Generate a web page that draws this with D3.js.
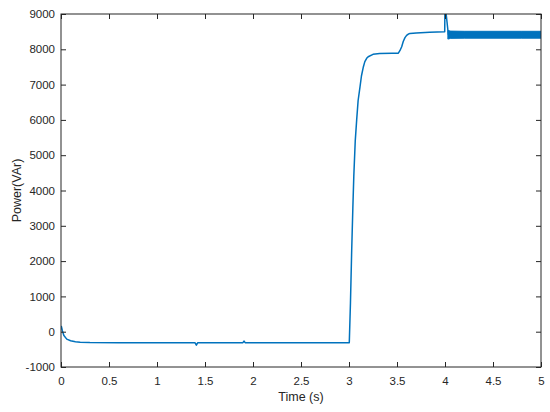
<!DOCTYPE html>
<html>
<head>
<meta charset="utf-8">
<script src="https://cdn.jsdelivr.net/npm/d3@7/dist/d3.min.js"></script>
<style>
  html, body { margin: 0; padding: 0; background: #fff; }
  svg { display: block; font-family: "Liberation Sans", Arial, Helvetica, sans-serif; }
</style>
</head>
<body>
<svg id="chart" width="550" height="412"></svg>
<script>
// ---- data ----
const timeS = [0, 0.004, 0.015, 0.03, 0.06, 0.1, 0.15, 0.2, 0.3, 0.6, 1.0, 1.395, 1.41, 1.425,
  1.895, 1.906, 1.918, 2.5, 3.0, 3.003, 3.015, 3.028, 3.04, 3.05, 3.065, 3.08, 3.095, 3.115, 3.13,
  3.15, 3.165, 3.184, 3.2, 3.25, 3.32,
  3.45, 3.514, 3.53, 3.549, 3.565, 3.583, 3.6, 3.615, 3.635, 3.7, 3.84, 3.997, 4.0, 4.012, 4.035];
const powerVAr = [60, 150, 20, -110, -210, -255, -285, -300, -308, -310, -310, -310, -380, -310,
  -310, -265, -310, -310, -310, -310, 800, 2300, 3500, 4400, 5400, 6000, 6550, 6940, 7250,
  7507, 7650, 7745, 7790, 7858, 7880,
  7885, 7890, 7960, 8074, 8220, 8330, 8395, 8425, 8450, 8465, 8480, 8495, 9400, 9000, 8420];
// oscillation envelope after t = 4 s
const bandTime = [4.03, 4.06, 4.2, 4.5, 4.8, 5.0];
const bandUpper = [8530, 8515, 8510, 8510, 8510, 8510];
const bandLower = [8290, 8310, 8315, 8315, 8315, 8315];
const xTicks = [0, 0.5, 1, 1.5, 2, 2.5, 3, 3.5, 4, 4.5, 5];
const yTicks = [-1000, 0, 1000, 2000, 3000, 4000, 5000, 6000, 7000, 8000, 9000];

// ---- layout ----
const L = 61, R = 541, T = 14, B = 367;
const ink = "#262626", lineColor = "#0072BD";
const svg = d3.select("#chart");

const x = d3.scaleLinear().domain([0, 5]).range([L, R]);
const y = d3.scaleLinear().domain([-1000, 9000]).range([B, T]);

svg.append("clipPath").attr("id", "clip")
  .append("rect").attr("x", L).attr("y", T).attr("width", R - L).attr("height", B - T);

const g = svg.append("g").attr("clip-path", "url(#clip)");

g.append("path")
  .datum(bandTime.map((t, i) => [t, bandUpper[i], bandLower[i]]))
  .attr("fill", lineColor)
  .attr("stroke", lineColor)
  .attr("stroke-width", 1)
  .attr("d", d3.area().x(d => x(d[0])).y0(d => y(d[2])).y1(d => y(d[1])));

g.append("path")
  .datum(timeS.map((t, i) => [t, powerVAr[i]]).concat([[bandTime[0], (bandUpper[0] + bandLower[0]) / 2]]))
  .attr("fill", "none")
  .attr("stroke", lineColor)
  .attr("stroke-width", 1.5)
  .attr("stroke-linejoin", "round")
  .attr("d", d3.line().x(d => x(d[0])).y(d => y(d[1])));

// ---- axes ----
const plain = d => String(d);
function style(sel, labels) {
  sel.select(".domain").remove();
  sel.selectAll(".tick line").attr("stroke", ink).attr("stroke-width", 1);
  sel.selectAll(".tick text").attr("fill", ink).style("font-size", "11.5px")
    .style("font-family", "'Liberation Sans', Arial, sans-serif");
  if (!labels) sel.selectAll(".tick text").remove();
}

svg.append("g").attr("transform", `translate(0,${B})`)
  .call(d3.axisBottom(x).tickValues(xTicks).tickFormat(plain).tickSizeInner(-5).tickSizeOuter(0).tickPadding(10))
  .call(s => style(s, true));
svg.append("g").attr("transform", `translate(0,${T})`)
  .call(d3.axisTop(x).tickValues(xTicks).tickSizeInner(-5).tickSizeOuter(0))
  .call(s => style(s, false));
svg.append("g").attr("transform", `translate(${L},0)`)
  .call(d3.axisLeft(y).tickValues(yTicks).tickFormat(plain).tickSizeInner(-5).tickSizeOuter(0).tickPadding(6))
  .call(s => style(s, true));
svg.append("g").attr("transform", `translate(${R},0)`)
  .call(d3.axisRight(y).tickValues(yTicks).tickSizeInner(-5).tickSizeOuter(0))
  .call(s => style(s, false));

svg.append("rect").attr("x", L).attr("y", T).attr("width", R - L).attr("height", B - T)
  .attr("fill", "none").attr("stroke", ink).attr("stroke-width", 1);

svg.append("text").attr("x", (L + R) / 2).attr("y", 401)
  .attr("text-anchor", "middle").attr("fill", ink).style("font-size", "12.5px")
  .text("Time (s)");
svg.append("text").attr("transform", `translate(21,${(T + B) / 2}) rotate(-90)`)
  .attr("text-anchor", "middle").attr("fill", ink).style("font-size", "12.5px")
  .text("Power(VAr)");
</script>
</body>
</html>
